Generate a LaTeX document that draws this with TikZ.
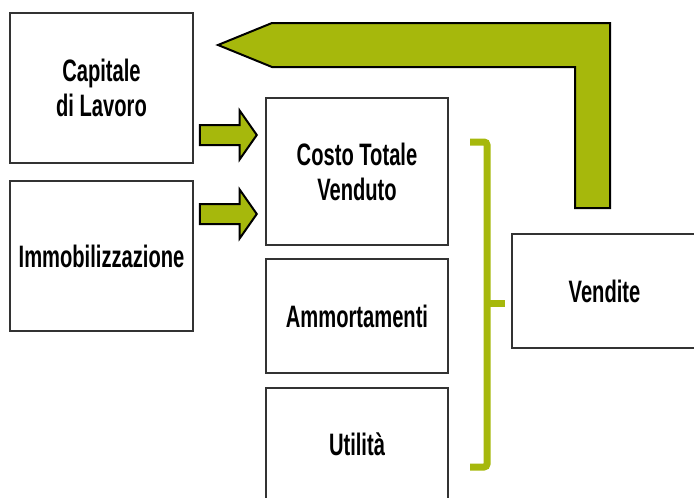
\documentclass[tikz,border=0pt]{standalone}
\usepackage{fontspec}
\setmainfont{Liberation Sans}[FakeStretch=0.65]
\usetikzlibrary{shapes.arrows,positioning}
\definecolor{olive}{RGB}{166,184,12}
\tikzset{
    box/.style={
           rectangle,
           draw=black!80, line width=1.6pt,
           fill=white,
           align=center,
           inner sep=0pt,
           font=\fontsize{31}{35}\selectfont\bfseries
           },
    fatarrow/.style={
           single arrow,
           draw=black, line width=2pt,
           fill=olive,
           inner xsep=0pt, inner ysep=9pt,
           minimum height=57pt,
           single arrow head extend=14.5pt,
           single arrow tip angle=110
           },
    brace/.style={
           draw=olive, line width=7pt,
           rounded corners=3pt
           }
}
\begin{document}
\begin{tikzpicture}[x=1pt, y=-1pt]
   \useasboundingbox (0,0) rectangle (694,498);

   % left column
   \node[box, minimum width=183pt, minimum height=150pt] (capitale) at (101.5,88)  {Capitale\\di Lavoro};
   \node[box, minimum width=183pt, minimum height=150pt] (immob)    at (101.5,256) {Immobilizzazione};

   % middle column
   \node[box, minimum width=182pt, minimum height=147pt] (costo)   at (357,171.5) {Costo Totale\\Venduto};
   \node[box, minimum width=182pt, minimum height=114pt] (ammort)  at (357,316)   {Ammortamenti};
   \node[box, minimum width=182pt, minimum height=112pt] (utile)   at (357,444)   {Utilità};

   % right
   \node[box, minimum width=185pt, minimum height=114pt] (vendite) at (604.5,291) {Vendite};

   % small arrows
   \node[fatarrow, anchor=tip] (arrA) at (258,135) {};
   \node[fatarrow, anchor=tip] (arrB) at (258,214) {};

   % return arrow from Vendite to Capitale
   \coordinate (retfoot) at (592.5,208);
   \coordinate (rettip)  at (218,45);
   \draw[line width=2pt, fill=olive, line join=miter]
     (rettip) -- (272,23) -- (610,23) -- (610,208) -- (575,208)
     -- (575,67) -- (272,67) -- cycle;

   % brace
   \coordinate (bracetop) at (470,142);
   \coordinate (bracebot) at (470,467);
   \coordinate (bracemid) at (487,303);
   \draw[brace] (bracetop) -| (bracemid) |- (bracebot);
   \draw[brace] (bracemid) -- (505,303);
\end{tikzpicture}
\end{document}
